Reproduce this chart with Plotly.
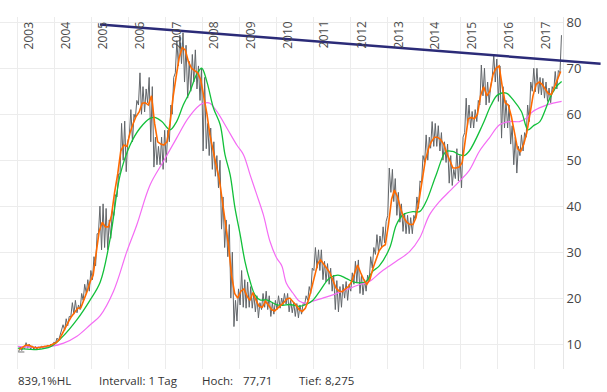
import pandas as pd
import plotly.graph_objects as go

# ---------------- data ----------------
years = list(range(2003, 2018))

hi_2003 = [9.4, 9.3, 10.3, 10.0, 9.6, 9.5, 9.4, 9.6, 9.6, 9.8, 10.0, 10.4]
lo_2003 = [8.275, 8.6, 9.0, 9.1, 8.9, 8.9, 8.9, 9.0, 9.0, 9.2, 9.4, 9.6]
hi_2004 = [11.3, 12.0, 14.2, 15.5, 16.0, 19.0, 19.5, 18.5, 21.0, 23.0, 24.0, 26.0]
lo_2004 = [10.2, 10.8, 12.5, 13.0, 14.0, 16.0, 16.5, 16.8, 17.5, 19.5, 21.0, 21.5]
hi_2005 = [29, 34, 40, 40.5, 39.5, 37, 39, 42.5, 47, 58, 58.5, 54]
lo_2005 = [24, 27, 34, 30.5, 31, 30.5, 33, 38, 42, 47, 50, 47.5]
hi_2006 = [61, 60, 63, 69, 66, 65.5, 68, 66, 55, 53, 55, 56.5]
lo_2006 = [55.5, 54, 59, 62, 60, 60.5, 62.5, 54, 48.5, 49, 49, 48]
hi_2007 = [56.5, 62, 68, 76, 77.2, 77.71, 75, 71.5, 73, 74, 70.5, 70]
lo_2007 = [49.5, 54, 60, 69, 70.5, 71, 67, 63.5, 65, 67, 65.5, 63]
hi_2008 = [68, 58, 57, 54, 51, 50, 42, 37, 36, 30, 19.5, 22]
lo_2008 = [52, 52.5, 51, 48, 46.5, 44, 35, 31, 29, 20, 13.8, 15]
hi_2009 = [26, 24, 23.5, 22.5, 21, 20.5, 19, 21, 21.5, 20.5, 19, 19.5]
lo_2009 = [18.5, 18, 17.8, 18, 17.8, 17, 15.7, 17.5, 18, 17.5, 16, 16.5]
hi_2010 = [20.5, 20, 21, 21, 19.5, 19, 18.8, 18.5, 18.8, 20.5, 22.5, 26.5]
lo_2010 = [17.5, 17.8, 18.5, 18.7, 17, 16.8, 16, 15.7, 16.5, 18.5, 19.5, 21]
hi_2011 = [31, 30.5, 30.5, 28, 27.5, 26.5, 25, 23.8, 22.5, 23, 23.6, 23]
lo_2011 = [26, 26.5, 26, 24, 23.5, 23, 21.5, 17.5, 17, 18, 20, 19.5]
hi_2012 = [25.5, 28, 28.3, 25, 24, 25, 29, 31, 33.8, 33.5, 35.5, 36.7]
lo_2012 = [21.5, 23, 23.5, 21, 20.7, 21.5, 23.6, 26.5, 29.5, 30, 31, 32]
hi_2013 = [48.3, 48, 46, 43, 40.5, 38.5, 38, 37.5, 38, 42, 45.5, 51]
lo_2013 = [38, 43, 41, 38, 36.5, 34.5, 34, 34, 34, 37, 39.5, 45]
hi_2014 = [55.5, 55, 58.4, 58, 57.5, 56, 54, 53.5, 51, 48, 52.5, 51]
lo_2014 = [49.5, 50, 52.6, 53, 53, 52, 50, 49.5, 45, 44.5, 46, 45.5]
hi_2015 = [55, 63.5, 62, 60.6, 61, 63, 70.7, 70, 67, 66, 73, 72]
lo_2015 = [44, 56, 57.5, 57, 57, 58.4, 62, 64, 62, 62.5, 68, 67]
hi_2016 = [70.5, 66, 63, 62, 57.5, 55, 53, 55.5, 56, 62, 67, 70]
lo_2016 = [62.8, 54.8, 57, 57, 53.5, 49, 47.2, 51, 52, 55, 58.4, 65]
hi_2017 = [70, 68, 67.8, 67, 65.7, 66, 69.3, 69.5, 77.2]
lo_2017 = [64.9, 64.5, 64.2, 63.5, 62.8, 62.5, 65, 65.5, 69]

or_2003 = [8.8, 9.3, 9.7, 9.8, 9.5, 9.2, 9.2, 9.3, 9.4, 9.5, 9.7, 10.0]
or_2004 = [10.3, 11.0, 12.3, 13.5, 14.8, 16.0, 16.8, 17.8, 17.9, 19.5, 21.4, 23.5]
or_2005 = [25, 30, 34.5, 36.5, 35.5, 35.5, 38, 43, 47, 52, 53.3, 53]
or_2006 = [56, 58, 59.5, 60.5, 62.4, 62.5, 62, 64, 58, 54, 53.5, 53.3]
or_2007 = [54, 58, 63.5, 68, 72.2, 74.5, 74, 71.5, 70, 69.5, 69, 67.5]
or_2008 = [64, 60, 55.5, 52, 49, 46, 41, 36, 31.5, 25, 21, 20]
or_2009 = [21.5, 22.0, 20.5, 19.5, 21.2, 19.5, 18.2, 18.0, 19.3, 18.5, 17.5, 17.2]
or_2010 = [17.8, 18.5, 19.0, 19.8, 20.0, 19.2, 18.5, 17.5, 17.1, 17.8, 19.5, 22.0]
or_2011 = [25, 27.5, 28.3, 27.5, 26.5, 25.5, 24, 22.2, 21.5, 21.4, 22, 22.5]
or_2012 = [23.5, 25.5, 27.2, 25.5, 24, 23, 24, 26.5, 28.5, 30.3, 31.2, 31.6]
or_2013 = [36, 41.5, 43.5, 42, 39.5, 37.5, 36.5, 36, 36, 37.5, 41.5, 46]
or_2014 = [50, 52.5, 54, 55, 55, 54.5, 53.5, 51.5, 50, 48.3, 48.3, 48.5]
or_2015 = [49.5, 55, 59, 59.3, 59, 60, 64, 66, 64, 65, 68.6, 70]
or_2016 = [70.5, 66, 62.5, 62, 59.5, 56, 52.5, 51.9, 53.5, 56, 60, 64]
or_2017 = [66.5, 67, 66.5, 65.5, 64.5, 64.3, 66, 67.5, 69.3]

green_t = [2003.0, 2003.5, 2003.9, 2004.2, 2004.6, 2004.95, 2005.23, 2005.5, 2005.77,
           2006.04, 2006.31, 2006.58, 2006.71, 2006.9, 2007.12, 2007.3, 2007.48, 2007.66,
           2007.84, 2007.98, 2008.12, 2008.3, 2008.48, 2008.61, 2008.75, 2008.88, 2009.02,
           2009.15, 2009.29, 2009.42, 2009.56, 2009.74, 2010.0, 2010.18, 2010.36, 2010.63,
           2010.81, 2011.0, 2011.17, 2011.44, 2011.67, 2011.89, 2012.07, 2012.25, 2012.43,
           2012.61, 2012.79, 2013.07, 2013.25, 2013.43, 2013.7, 2013.88, 2014.06, 2014.33,
           2014.6, 2014.78, 2014.96, 2015.09, 2015.23, 2015.59, 2015.82, 2016.0, 2016.23,
           2016.45, 2016.64, 2016.82, 2016.95, 2017.14, 2017.27, 2017.41, 2017.59, 2017.73]
green_v = [9.1, 8.8, 9.5, 11.5, 15.3, 19.5, 23.5, 33, 46.8,
           53.3, 57, 59.1, 59.3, 58.4, 56.6, 58.4, 62, 64.9,
           68.6, 70, 67.1, 61.3, 57.7, 51.2, 46.8, 39.6, 33.8,
           28, 23.6, 20.7, 19.6, 19.6, 18.6, 18.4, 18.6, 18.2,
           18.6, 19.6, 21.4, 24.3, 25, 24.3, 23.6, 23.3, 23.6,
           25.8, 27, 30.9, 35.9, 38.1, 38.8, 38.8, 41, 46.8,
           51.9, 51.9, 51.2, 51, 52, 57.7, 62, 64.2, 64.6,
           62.8, 60.6, 56.6, 57.4, 58.4, 60.6, 63.5, 66, 67.1]

magenta_t = [2003.0, 2003.5, 2003.9, 2004.24, 2004.6, 2004.96, 2005.23, 2005.59, 2005.95,
             2006.22, 2006.58, 2006.94, 2007.3, 2007.61, 2007.93, 2008.03, 2008.2, 2008.39,
             2008.66, 2008.93, 2009.11, 2009.29, 2009.47, 2009.65, 2009.83, 2010.01, 2010.15,
             2010.27, 2010.45, 2010.63, 2010.81, 2010.99, 2011.26, 2011.53, 2011.89, 2012.25,
             2012.52, 2012.85, 2013.25, 2013.61, 2013.88, 2014.15, 2014.42, 2014.69, 2014.96,
             2015.23, 2015.5, 2015.77, 2016.05, 2016.32, 2016.59, 2016.77, 2016.95, 2017.23,
             2017.5, 2017.73]
magenta_v = [9.5, 9.3, 9.5, 10.2, 11.7, 14.2, 16.2, 21.5, 30.1,
             35.9, 44.6, 49.7, 54.8, 59.1, 62.0, 62.4, 62.4, 60.6,
             57, 53.3, 51.2, 46.8, 42.5, 38.1, 32.3, 28.7, 27,
             23.3, 21.1, 19.3, 18.9, 19.3, 20, 20.7, 21.8, 22.9,
             23.6, 25.8, 28, 30.1, 33, 38.1, 41, 43.2, 45.4,
             47.8, 51.9, 54.8, 57.7, 58.4, 58.4, 59.1, 60.6, 61.7,
             62.4, 62.8]

trend_dates = ["2005-03-24", "2018-10-15"]
trend_vals = [79.5, 71.0]
low_mark_dates = ["2003-01-04", "2003-03-06"]
low_mark_val = 8.275

y_ticks = [10, 20, 30, 40, 50, 60, 70, 80]
info_texts = ["839,1%HL", "Intervall: 1 Tag", "Hoch:", "77,71", "Tief:", "8,275"]

# ---------------- assemble ----------------
hi = sum([globals()[f"hi_{y}"] for y in years], [])
lo = sum([globals()[f"lo_{y}"] for y in years], [])
ma_o = sum([globals()[f"or_{y}"] for y in years], [])
months = pd.date_range("2003-01-01", periods=len(hi), freq="MS")

gx, gy = [], []
for m, h, l in zip(months, hi, lo):
    gx += [m + pd.Timedelta(days=7), m + pd.Timedelta(days=22)]
    gy += [l, h]

def dec2date(t):
    y = int(t)
    a = pd.Timestamp(year=y, month=1, day=1)
    b = pd.Timestamp(year=y + 1, month=1, day=1)
    return a + (b - a) * (t - y)

X0, X1 = pd.Timestamp("2002-07-08"), pd.Timestamp("2017-10-08")
Y0, Y1 = 4.57, 81.15

fig = go.Figure()
fig.add_trace(go.Scatter(x=gx, y=gy, mode="lines",
                         line=dict(color="#62666a", width=1.0), hoverinfo="skip"))
fig.add_trace(go.Scatter(x=[dec2date(t) for t in magenta_t], y=magenta_v, mode="lines",
                         line=dict(color="#f46cf4", width=1.2, shape="spline")))
fig.add_trace(go.Scatter(x=[dec2date(t) for t in green_t], y=green_v, mode="lines",
                         line=dict(color="#12c03a", width=1.3, shape="spline")))
fig.add_trace(go.Scatter(x=months + pd.Timedelta(days=14), y=ma_o, mode="lines",
                         line=dict(color="#ff6a00", width=1.6)))
fig.add_trace(go.Scatter(x=low_mark_dates, y=[low_mark_val, low_mark_val], mode="lines",
                         line=dict(color="#a0a0a0", width=1.5)))

def xp(d):
    return (pd.Timestamp(d) - X0) / (X1 - X0)

def yp(v):
    return (v - Y0) / (Y1 - Y0)

fig.add_shape(type="line", xref="paper", yref="paper",
              x0=xp(trend_dates[0]), y0=yp(trend_vals[0]),
              x1=xp(trend_dates[1]), y1=yp(trend_vals[1]),
              line=dict(color="#2b2b78", width=2.5), layer="above")

for y in years:
    fig.add_annotation(x=f"{y}-01-01", xref="x", y=1, yref="paper", text=str(y),
                       textangle=-90, showarrow=False, xanchor="left", yanchor="top",
                       xshift=1, yshift=-3, borderpad=0,
                       font=dict(family="Open Sans", size=12, color="#4a4a4a"))

info_x = [17, 98, 201, 242, 298, 324]
W = 563.3
for t, px in zip(info_texts, info_x):
    fig.add_annotation(x=px / W, xref="paper", y=-0.033, yref="paper", text=t,
                       showarrow=False, xanchor="left", yanchor="middle", borderpad=0,
                       font=dict(family="Open Sans", size=11.5, color="#333"))

fig.update_layout(
    width=607, height=392,
    margin=dict(l=0, r=44, t=17, b=23),
    paper_bgcolor="white", plot_bgcolor="white",
    showlegend=False,
    xaxis=dict(type="date", range=[X0, X1], tickvals=[f"{y}-01-01" for y in years],
               showticklabels=False, showgrid=True, gridcolor="#ececec", gridwidth=1,
               zeroline=False, showline=False, ticks=""),
    yaxis=dict(side="right", range=[Y0, Y1], tickvals=y_ticks,
               showgrid=True, gridcolor="#ececec", gridwidth=1, zeroline=False,
               showline=True, linecolor="#e6e6e6", linewidth=1, ticks="",
               ticklabeloverflow="allow",
               tickfont=dict(family="Open Sans", size=13, color="#444")),
)

fig.write_html("out.html", config={"displayModeBar": False},
               post_script="document.body.style.margin='0';document.body.style.overflow='hidden';")
